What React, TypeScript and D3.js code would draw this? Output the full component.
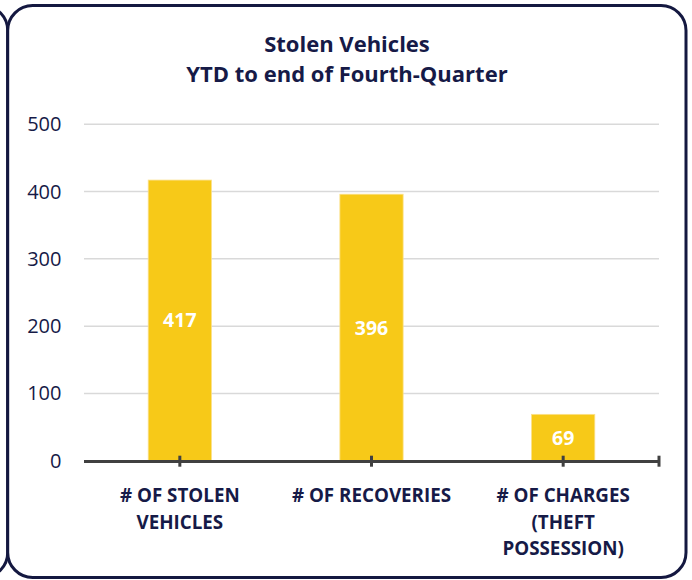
import React from "react";
import * as d3 from "d3";

const categories: string[][] = [
  ["# OF STOLEN", "VEHICLES"],
  ["# OF RECOVERIES"],
  ["# OF CHARGES", "(THEFT", "POSSESSION)"],
];
const values: number[] = [417, 396, 69];
const yTicks: number[] = [0, 100, 200, 300, 400, 500];
const titleLines: string[] = ["Stolen Vehicles", "YTD to end of Fourth-Quarter"];

const W = 692;
const H = 580;
const NAVY = "#161a47";
const BAR = "#f7c918";
const FONT = "'Open Sans', sans-serif";

export default function App() {
  const x0 = 84;
  const x1 = 659;
  const yBase = 460.8;
  const yTop = 124.2;
  const x = d3.scaleBand<number>().domain(d3.range(values.length)).range([x0, x1]).padding(0);
  const y = d3.scaleLinear().domain([0, 500]).range([yBase, yTop]);
  const barW = x.bandwidth() * 0.33;

  return (
    <svg width={W} height={H} style={{ position: "absolute", left: 0, top: 0 }} fontFamily={FONT}>
      <rect x={0} y={0} width={W} height={H} fill="#fff" />
      {/* neighbour frames */}
      <rect x={7.7 - 678.3} y={5.5} width={678.3} height={572} rx={25} ry={25} fill="none" stroke="#141840" strokeWidth={3} />
      <rect x={7.7} y={5.5} width={678.3} height={572} rx={25} ry={25} fill="#fff" stroke="#141840" strokeWidth={3} />

      {/* title */}
      {titleLines.map((t, i) => (
        <text key={i} x={347} y={52 + i * 30} textAnchor="middle" fontWeight={700} fontSize={22} fill={NAVY}>
          {t}
        </text>
      ))}

      {/* gridlines */}
      {yTicks.filter((t) => t > 0).map((t) => (
        <line key={t} x1={x0} x2={x1} y1={y(t)} y2={y(t)} stroke="#d9d9d9" strokeWidth={1.5} />
      ))}
      {/* y labels */}
      {yTicks.map((t) => (
        <text key={t} x={61.5} y={y(t)} dy="0.35em" textAnchor="end" fontSize={20} fill={NAVY}>
          {t}
        </text>
      ))}

      {/* bars */}
      {values.map((v, i) => {
        const cx = (x(i) as number) + x.bandwidth() / 2;
        return (
          <g key={i}>
            <rect x={cx - barW / 2} y={y(v)} width={barW} height={yBase - y(v)} fill={BAR} stroke="#fbe08a" strokeWidth={0.8} />
            <text x={cx} y={(y(v) + yBase) / 2} dy="0.36em" textAnchor="middle" fontWeight={700} fontSize={19.5} fill="#fff">
              {v}
            </text>
          </g>
        );
      })}

      {/* axis */}
      <line x1={x0} x2={x1} y1={yBase + 0.7} y2={yBase + 0.7} stroke="#404040" strokeWidth={3} />
      {values.map((_, i) => {
        const cx = (x(i) as number) + x.bandwidth() / 2;
        return <line key={i} x1={cx} x2={cx} y1={455.7} y2={466.7} stroke="#404040" strokeWidth={3} />;
      })}
      <line x1={x1} x2={x1} y1={455.7} y2={466.7} stroke="#404040" strokeWidth={3} />

      {/* category labels */}
      {categories.map((lines, i) => {
        const cx = (x(i) as number) + x.bandwidth() / 2;
        return lines.map((l, j) => (
          <text key={i + "-" + j} x={cx} y={502 + j * 26.5} textAnchor="middle" fontWeight={700} fontSize={18.8} fill={NAVY}>
            {l}
          </text>
        ));
      })}
    </svg>
  );
}
